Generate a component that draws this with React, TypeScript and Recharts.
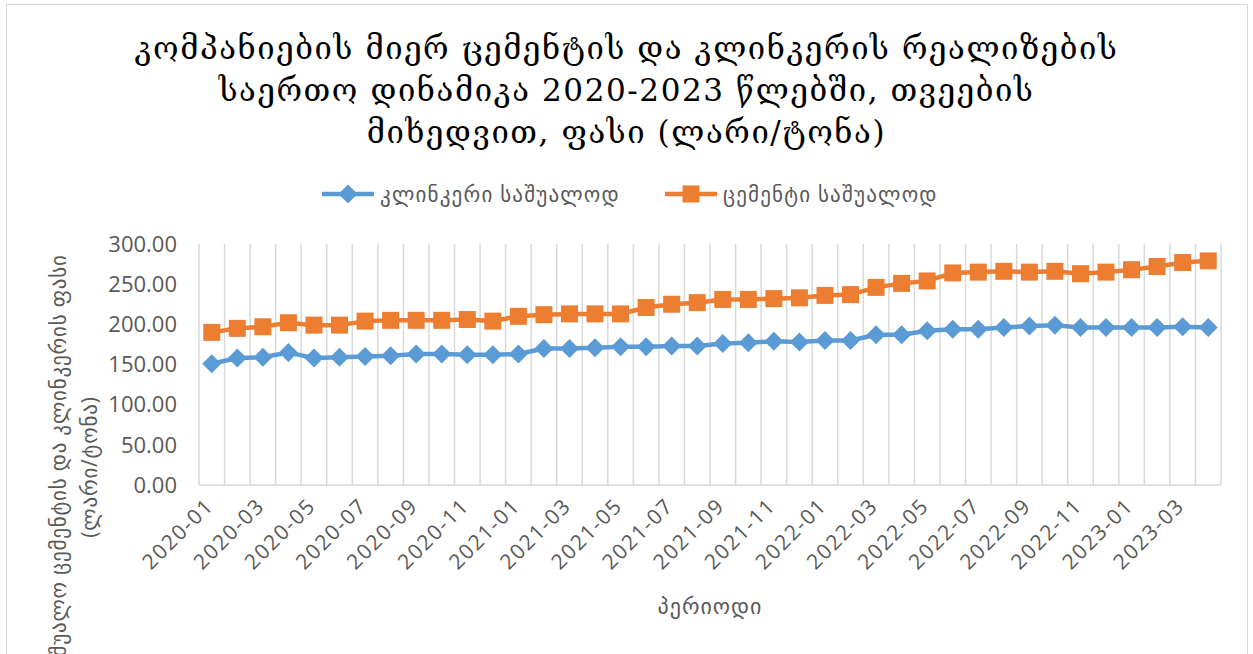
import { LineChart, Line, XAxis, YAxis, CartesianGrid } from "recharts";

const months = [
  "2020-01", "2020-02", "2020-03", "2020-04", "2020-05", "2020-06", "2020-07", "2020-08",
  "2020-09", "2020-10", "2020-11", "2020-12", "2021-01", "2021-02", "2021-03", "2021-04",
  "2021-05", "2021-06", "2021-07", "2021-08", "2021-09", "2021-10", "2021-11", "2021-12",
  "2022-01", "2022-02", "2022-03", "2022-04", "2022-05", "2022-06", "2022-07", "2022-08",
  "2022-09", "2022-10", "2022-11", "2022-12", "2023-01", "2023-02", "2023-03", "2023-04",
];

// კლინკერი საშუალოდ
const clinker = [
  151, 158, 159, 165, 158, 159, 160, 161, 163, 163, 162, 162, 163, 170, 170, 171,
  172, 172, 173, 173, 176, 177, 179, 178, 180, 180, 187, 187, 192, 194, 194, 196,
  198, 199, 196, 196, 196, 196, 197, 196,
];

// ცემენტი საშუალოდ
const cement = [
  190, 195, 197, 202, 199, 199, 204, 205, 205, 205, 206, 204, 210, 212, 213, 213,
  213, 221, 225, 227, 231, 231, 232, 233, 236, 237, 246, 251, 254, 264, 265, 266,
  265, 266, 263, 265, 268, 272, 277, 279,
];

const yTicks = [0, 50, 100, 150, 200, 250, 300];

const titleLines = [
  "კომპანიების მიერ ცემენტის და კლინკერის რეალიზების",
  "საერთო დინამიკა 2020-2023 წლებში, თვეების",
  "მიხედვით, ფასი (ლარი/ტონა)",
];

const BLUE = "#5B9BD5";
const ORANGE = "#ED7D31";
const GREY = "#595959";
const FONT = "'Open Sans', 'DejaVu Sans', sans-serif";

const data = months.map((m, i) => ({ month: m, clinker: clinker[i], cement: cement[i] }));

const Diamond = ({ cx, cy, fill, r = 9.5 }: any) => {
  if (cx == null || cy == null) return null;
  return (
    <path
      d={`M${cx},${cy - r}L${cx + r},${cy}L${cx},${cy + r}L${cx - r},${cy}Z`}
      fill={fill}
    />
  );
};

const Square = ({ cx, cy, fill, s = 8.5 }: any) => {
  if (cx == null || cy == null) return null;
  return <rect x={cx - s} y={cy - s} width={s * 2} height={s * 2} fill={fill} />;
};

const XTick = ({ x, y, payload }: any) => (
  <text
    x={x + 3}
    y={y + 22}
    transform={`rotate(-45, ${x + 3}, ${y + 22})`}
    textAnchor="end"
    fill={GREY}
    fontSize={21}
    letterSpacing={1.6}
    fontFamily={FONT}
  >
    {payload.value}
  </text>
);

const YTitle = () => (
  <text
    transform="translate(66, 467) rotate(-90)"
    textAnchor="middle"
    fill={GREY}
    fontSize={21}
    letterSpacing={0.8}
    fontFamily={FONT}
  >
    <tspan x={0} dy={0}>საშუალო ცემენტის და კლინკერის ფასი</tspan>
    <tspan x={0} dy={31}>(ლარი/ტონა)</tspan>
  </text>
);

const XTitle = ({ viewBox }: any) => (
  <text
    x={viewBox.x + viewBox.width / 2}
    y={614}
    textAnchor="middle"
    fill={GREY}
    fontSize={22}
    letterSpacing={1}
    fontFamily={FONT}
  >
    პერიოდი
  </text>
);

const LegendItem = ({ left, color, label, shape }: any) => (
  <div style={{ position: "absolute", left, top: 180, display: "flex", alignItems: "center" }}>
    <svg width={52} height={26}>
      <line x1={0} y1={13} x2={52} y2={13} stroke={color} strokeWidth={4.5} />
      {shape === "diamond" ? (
        <Diamond cx={26} cy={13} fill={color} />
      ) : (
        <Square cx={26} cy={13} fill={color} />
      )}
    </svg>
    <span
      style={{
        marginLeft: 6,
        fontSize: 21,
        letterSpacing: 1.2,
        color: GREY,
        fontFamily: FONT,
      }}
    >
      {label}
    </span>
  </div>
);

export default function App() {
  return (
    <div
      style={{
        position: "absolute",
        left: 0,
        top: 0,
        width: 1253,
        height: 654,
        overflow: "hidden",
        background: "#fff",
      }}
    >
      <div
        style={{
          position: "absolute",
          left: 6,
          top: 4,
          width: 1240,
          height: 720,
          border: "1.5px solid #d9d9d9",
        }}
      />
      <div
        style={{
          position: "absolute",
          left: 0,
          top: 27,
          width: 1253,
          textAlign: "center",
          fontFamily: "'DejaVu Serif', serif",
          fontSize: 31,
          letterSpacing: 1.6,
          lineHeight: "42px",
          color: "#000",
        }}
      >
        {titleLines.map((t) => (
          <div key={t}>{t}</div>
        ))}
      </div>

      <LegendItem left={322} color={BLUE} label="კლინკერი საშუალოდ" shape="diamond" />
      <LegendItem left={665} color={ORANGE} label="ცემენტი საშუალოდ" shape="square" />

      <div style={{ position: "absolute", left: 0, top: 0 }}>
        <LineChart
          width={1253}
          height={654}
          data={data}
          margin={{ top: 244, right: 32, left: 0, bottom: 0 }}
        >
          <CartesianGrid
            horizontal={false}
            stroke="#d9d9d9"
            strokeWidth={1.5}
            verticalCoordinatesGenerator={({ offset }: any) =>
              Array.from(
                { length: months.length + 1 },
                (_, i) => offset.left + (offset.width * i) / months.length
              )
            }
          />
          <XAxis
            dataKey="month"
            scale="band"
            interval={1}
            height={169}
            tickSize={0}
            tickMargin={0}
            axisLine={{ stroke: "#d9d9d9", strokeWidth: 1.5 }}
            tickLine={false}
            tick={<XTick />}
            label={{ content: <XTitle /> }}
          />
          <YAxis
            width={199}
            domain={[0, 300]}
            ticks={yTicks}
            tickFormatter={(v: number) => v.toFixed(2)}
            axisLine={false}
            tickLine={false}
            tickSize={0}
            tickMargin={22}
            tick={{ fill: GREY, fontSize: 22, fontFamily: FONT }}
            label={{ content: <YTitle /> }}
          />
          <Line
            type="linear"
            dataKey="clinker"
            name="კლინკერი საშუალოდ"
            stroke={BLUE}
            strokeWidth={4.5}
            dot={(p: any) => <Diamond key={`c${p.index}`} cx={p.cx} cy={p.cy} fill={BLUE} />}
            activeDot={false}
            isAnimationActive={false}
          />
          <Line
            type="linear"
            dataKey="cement"
            name="ცემენტი საშუალოდ"
            stroke={ORANGE}
            strokeWidth={4.5}
            dot={(p: any) => <Square key={`m${p.index}`} cx={p.cx} cy={p.cy} fill={ORANGE} />}
            activeDot={false}
            isAnimationActive={false}
          />
        </LineChart>
      </div>
    </div>
  );
}
